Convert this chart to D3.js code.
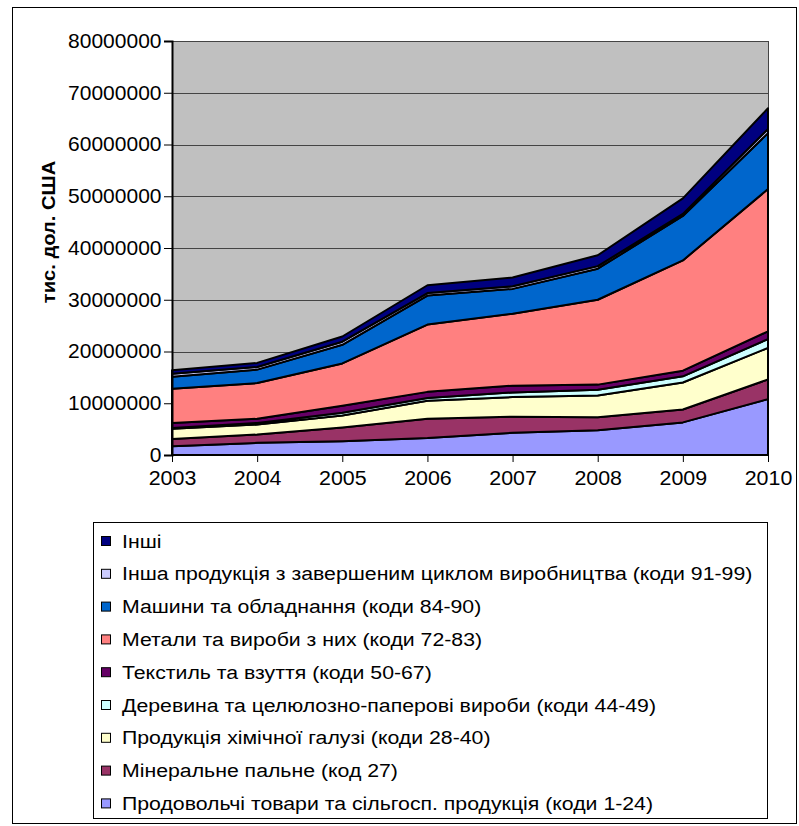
<!DOCTYPE html>
<html lang="uk">
<head>
<meta charset="UTF-8">
<title>Експорт</title>
<script src="https://d3js.org/d3.v7.min.js"></script>
<style>
  body { margin: 0; background: #fff; }
  text { font-family: "Liberation Sans", Arial, sans-serif; }
</style>
</head>
<body>
<svg width="799" height="826"></svg>
<script>
// years on the x axis
const years = ["2003", "2004", "2005", "2006", "2007", "2008", "2009", "2010"];

// series names, bottom of the stack first
const seriesNames = [
  "Продовольчі товари та сільгосп. продукція (коди 1-24)",
  "Мінеральне пальне (код 27)",
  "Продукція хімічної галузі (коди 28-40)",
  "Деревина та целюлозно-паперові вироби (коди 44-49)",
  "Текстиль та взуття (коди 50-67)",
  "Метали та вироби з них (коди 72-83)",
  "Машини та обладнання (коди 84-90)",
  "Інша продукція з завершеним циклом виробництва (коди 91-99)",
  "Інші"
];
const seriesColors = ["#9999FF", "#993366", "#FFFFCC", "#CCFFFF", "#660066",
                      "#FF8080", "#0066CC", "#CCCCFF", "#000080"];

// values, thousand USD
const food     = [1700000, 2350000, 2670000, 3300000, 4300000, 4800000, 6300000, 10800000];
const fuel     = [1400000, 1610000, 2630000, 3700000, 3100000, 2500000, 2500000, 3800000];
const chem     = [1950000, 1940000, 2350000, 3500000, 3800000, 4200000, 5200000, 6100000];
const wood     = [150000, 300000, 500000, 500000, 900000, 1100000, 1200000, 1700000];
const textile  = [1000000, 800000, 1350000, 1200000, 1300000, 1000000, 1100000, 1500000];
const metals   = [6600000, 6900000, 8200000, 13000000, 13900000, 16400000, 21300000, 27500000];
const machines = [2300000, 2600000, 3600000, 5600000, 4800000, 6000000, 8600000, 10800000];
const otherProd = [600000, 500000, 600000, 500000, 500000, 500000, 400000, 800000];
const others   = [700000, 800000, 1000000, 1500000, 1700000, 2100000, 3000000, 4000000];

const yTicks = [0, 10000000, 20000000, 30000000, 40000000, 50000000, 60000000, 70000000, 80000000];

const seriesValues = [food, fuel, chem, wood, textile, metals, machines, otherProd, others];

const rows = years.map((yr, i) => {
  const r = { year: yr };
  seriesValues.forEach((arr, k) => { r["s" + k] = arr[i]; });
  return r;
});
const keys = seriesNames.map((n, k) => "s" + k);

const svg = d3.select("svg");

// outer frame
svg.append("rect")
  .attr("x", 12.5).attr("y", 7.5)
  .attr("width", 784).attr("height", 816)
  .attr("fill", "#fff").attr("stroke", "#000").attr("stroke-width", 1);

const plotL = 172, plotR = 768, plotT = 41, plotB = 455;

const x = d3.scalePoint().domain(years).range([plotL, plotR]);
const y = d3.scaleLinear().domain([0, 80000000]).range([plotB, plotT]);

// grey plot background
svg.append("rect")
  .attr("x", plotL).attr("y", plotT)
  .attr("width", plotR - plotL).attr("height", plotB - plotT)
  .attr("fill", "#C0C0C0");

// gridlines
svg.append("g")
  .selectAll("line")
  .data(yTicks.slice(1))
  .enter()
  .append("line")
  .attr("x1", plotL).attr("x2", plotR)
  .attr("y1", d => Math.round(y(d)) + 0.5).attr("y2", d => Math.round(y(d)) + 0.5)
  .attr("stroke", "#444").attr("stroke-width", 1);

// right border of plot
svg.append("line")
  .attr("x1", plotR + 0.5).attr("x2", plotR + 0.5)
  .attr("y1", plotT).attr("y2", plotB)
  .attr("stroke", "#444");

// stacked areas
const stack = d3.stack().keys(keys);
const layers = stack(rows);

const area = d3.area()
  .x(d => x(d.data.year))
  .y0(d => y(d[0]))
  .y1(d => y(d[1]));

svg.append("g")
  .selectAll("path")
  .data(layers)
  .enter()
  .append("path")
  .attr("d", area)
  .attr("fill", (d, i) => seriesColors[i])
  .attr("stroke", "#000")
  .attr("stroke-width", 2)
  .attr("stroke-linejoin", "round");

// y axis
const yAxis = svg.append("g")
  .attr("transform", `translate(${plotL},0)`)
  .call(d3.axisLeft(y).tickValues(yTicks).tickFormat(d3.format("d")).tickSize(8).tickPadding(2));
yAxis.select(".domain").attr("stroke", "#000").attr("stroke-width", 2);
yAxis.selectAll(".tick line").attr("stroke", "#000");
yAxis.selectAll("text")
  .style("font-size", "20px").attr("fill", "#000")
  .attr("transform", "scale(1.05,1)");

// x axis
const xAxis = svg.append("g")
  .attr("transform", `translate(0,${plotB})`)
  .call(d3.axisBottom(x).tickSize(7).tickPadding(9));
xAxis.select(".domain").attr("stroke", "#000").attr("stroke-width", 2)
  .attr("d", `M${plotL},0H${plotR}`);
xAxis.selectAll(".tick line").attr("stroke", "#000");
xAxis.selectAll("text")
  .style("font-size", "20px").attr("fill", "#000")
  .attr("transform", "scale(1.07,1)");

// y axis title
svg.append("text")
  .attr("transform", "translate(55,232) rotate(-90) scale(1.06,1)")
  .attr("text-anchor", "middle")
  .style("font-size", "19px")
  .style("font-weight", "bold")
  .text("тис. дол. США");

// legend
const legend = svg.append("g");
legend.append("rect")
  .attr("x", 93.5).attr("y", 522.5)
  .attr("width", 674).attr("height", 296)
  .attr("fill", "#fff").attr("stroke", "#000");

const legendItems = seriesNames.map((n, i) => ({ name: n, color: seriesColors[i] })).reverse();
const li = legend.selectAll("g.item")
  .data(legendItems)
  .enter()
  .append("g")
  .attr("class", "item")
  .attr("transform", (d, i) => `translate(101,${541 + i * 32.8})`);
li.append("rect")
  .attr("x", 0.5).attr("y", -4.5)
  .attr("width", 9).attr("height", 9)
  .attr("fill", d => d.color)
  .attr("stroke", "#000");
li.append("text")
  .attr("transform", "translate(21,0) scale(1.12,1)")
  .attr("dy", "0.35em")
  .style("font-size", "19px")
  .text(d => d.name);
</script>
</body>
</html>
